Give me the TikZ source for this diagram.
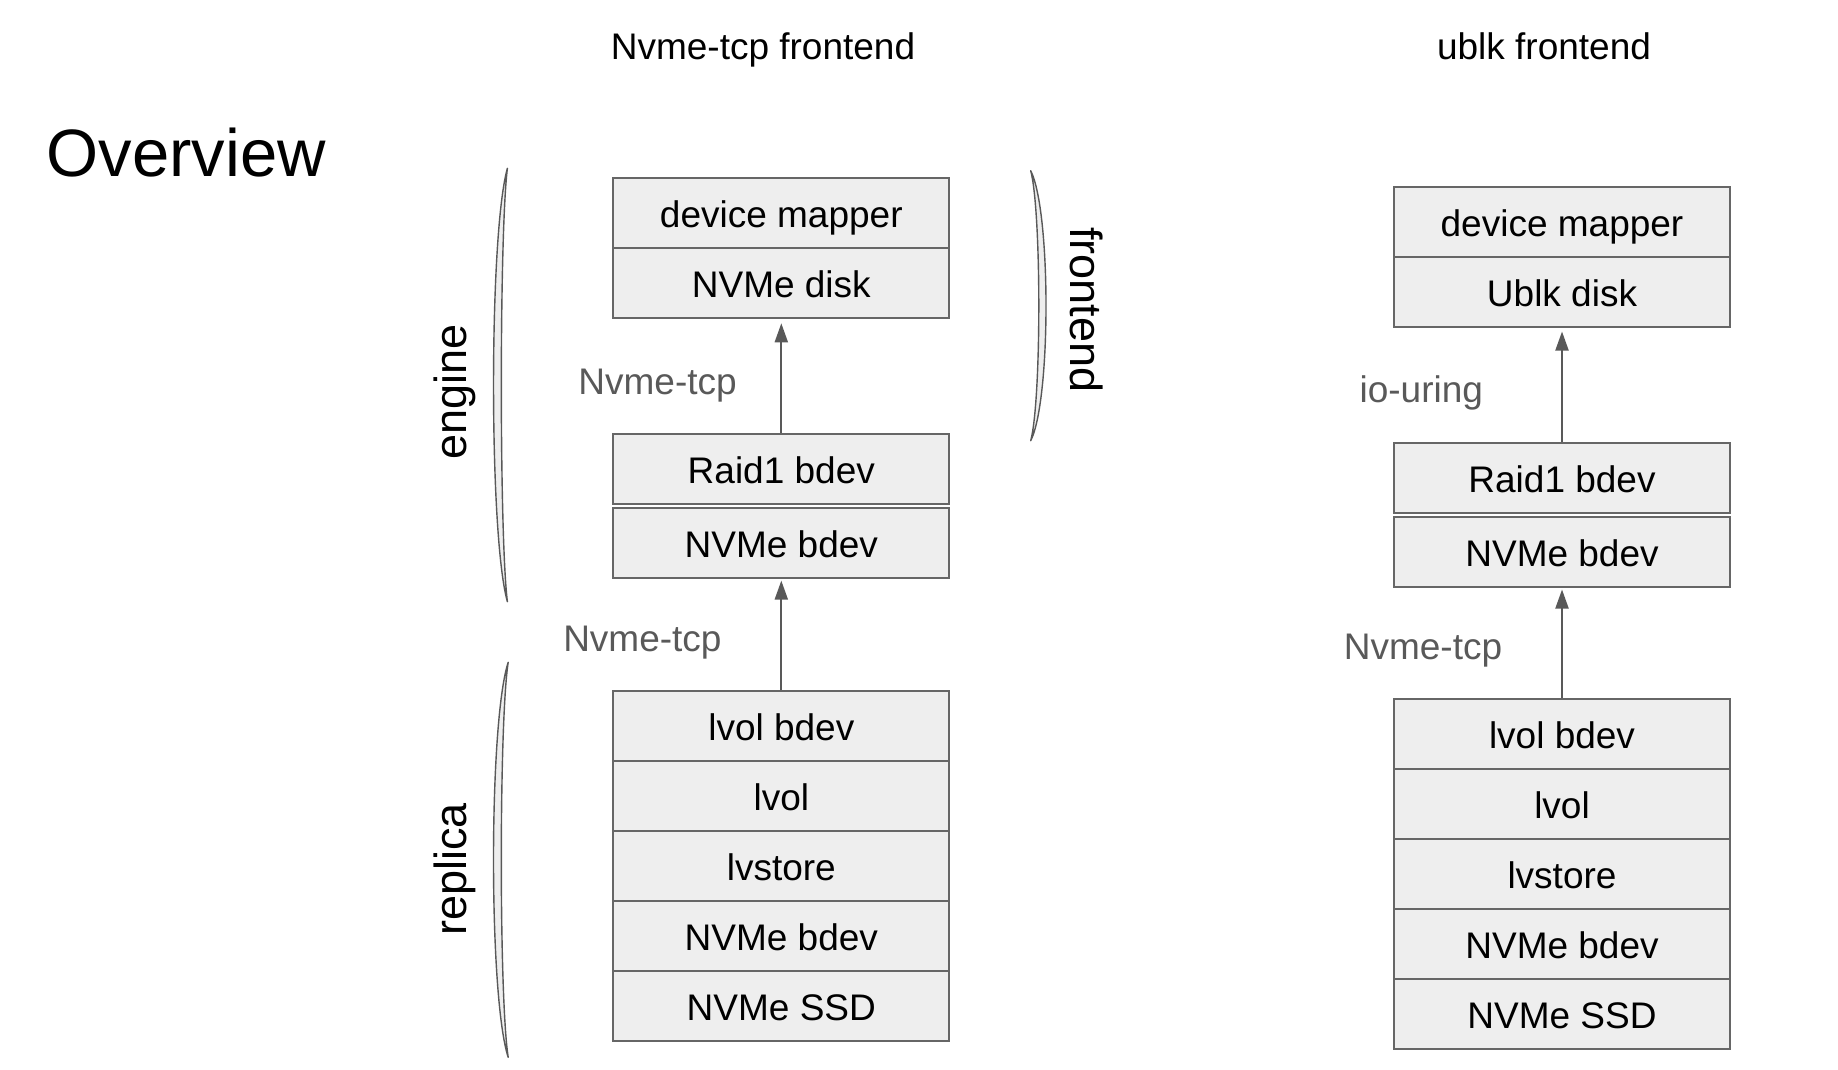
\documentclass[tikz,border=0pt]{standalone}
\usepackage{fontspec}
\setmainfont{Liberation Sans}
\usetikzlibrary{arrows.meta}
\definecolor{boxfill}{HTML}{EEEEEE}
\definecolor{boxline}{HTML}{666666}
\definecolor{arrowgray}{HTML}{595959}
\definecolor{labelgray}{HTML}{595959}
\tikzset{
  row/.style={draw=boxline, fill=boxfill, line width=2pt, minimum width=336pt,
    minimum height=70pt, inner sep=0pt, text height=29pt, text depth=0pt,
    font=\fontsize{37}{44}\selectfont, text=black},
  conn/.style={draw=arrowgray, line width=2pt, -{Triangle[length=19pt,width=13pt]}},
  glabel/.style={anchor=base, inner sep=0pt, text=labelgray, font=\fontsize{37}{44}\selectfont},
  head/.style={anchor=base, inner sep=0pt, text=black, font=\fontsize{37}{44}\selectfont},
  side/.style={anchor=base, inner sep=0pt, text=black, font=\fontsize{45}{54}\selectfont},
  brace/.style={draw=arrowgray, fill=boxfill, line width=1.4pt, line join=round}
}
\begin{document}
\begin{tikzpicture}[x=1pt, y=-1pt]
\useasboundingbox (0,0) rectangle (1838,1070);

% headings
\node[head] (h1) at (763,59.2) {Nvme-tcp frontend};
\node[head] (h2) at (1544,59.2) {ublk frontend};
\node[anchor=base west, inner sep=0pt, font=\fontsize{67}{80}\selectfont] (ov) at (46.5,176) {Overview};

% left stack
\node[row] (Ldm)   at (781.3,213.3) {device mapper};
\node[row] (Ldisk) at (781.3,283.3) {NVMe disk};
\node[row] (Lraid) at (781.3,469.0) {Raid1 bdev};
\node[row] (Lnb)   at (781.3,542.6) {NVMe bdev};
\node[row] (Llb)   at (781.3,725.5) {lvol bdev};
\node[row] (Llv)   at (781.3,795.6) {lvol};
\node[row] (Lls)   at (781.3,865.7) {lvstore};
\node[row] (Lnb2)  at (781.3,935.8) {NVMe bdev};
\node[row] (Lssd)  at (781.3,1005.9) {NVMe SSD};

% right stack
\node[row] (Rdm)   at (1562,221.5) {device mapper};
\node[row] (Rdisk) at (1562,291.5) {Ublk disk};
\node[row] (Rraid) at (1562,477.6) {Raid1 bdev};
\node[row] (Rnb)   at (1562,551.5) {NVMe bdev};
\node[row] (Rlb)   at (1562,734.0) {lvol bdev};
\node[row] (Rlv)   at (1562,804.1) {lvol};
\node[row] (Rls)   at (1562,874.2) {lvstore};
\node[row] (Rnb2)  at (1562,944.3) {NVMe bdev};
\node[row] (Rssd)  at (1562,1014.4) {NVMe SSD};

% connectors
\draw[conn, shorten >=4pt] (Lraid.north) -- (Ldisk.south);
\draw[conn, shorten >=2pt] (Llb.north) -- (Lnb.south);
\draw[conn, shorten >=4pt] (Rraid.north) -- (Rdisk.south);
\draw[conn, shorten >=2pt] (Rlb.north) -- (Rnb.south);

% connector labels
\node[glabel] (t1) at (657.6,394.5) {Nvme-tcp};
\node[glabel] (t2) at (642.4,651.2) {Nvme-tcp};
\node[glabel] (t3) at (1421.3,402.7) {io-uring};
\node[glabel] (t4) at (1423,659.6) {Nvme-tcp};

% braces
\path[brace] (507.4,168.3) .. controls (488.9,233.3) and (488.9,536.7) .. (507.4,601.7)
  .. controls (499.3,536.7) and (499.3,233.3) .. (507.4,168.3) -- cycle;
\path[brace] (508.2,662.3) .. controls (488.6,721.6) and (488.6,998) .. (508.2,1057.3)
  .. controls (499,998) and (499,721.6) .. (508.2,662.3) -- cycle;
\path[brace] (1030.7,170.7) .. controls (1051.1,211.2) and (1051.1,400.2) .. (1030.7,440.7)
  .. controls (1041.5,400.2) and (1041.5,211.2) .. (1030.7,170.7) -- cycle;

% side labels
\node[side, rotate=90] (eng) at (466,392) {engine};
\node[side, rotate=90] (rep) at (466,869.5) {replica};
\node[side, rotate=-90] (fe) at (1070.5,310) {frontend};
\end{tikzpicture}
\end{document}
